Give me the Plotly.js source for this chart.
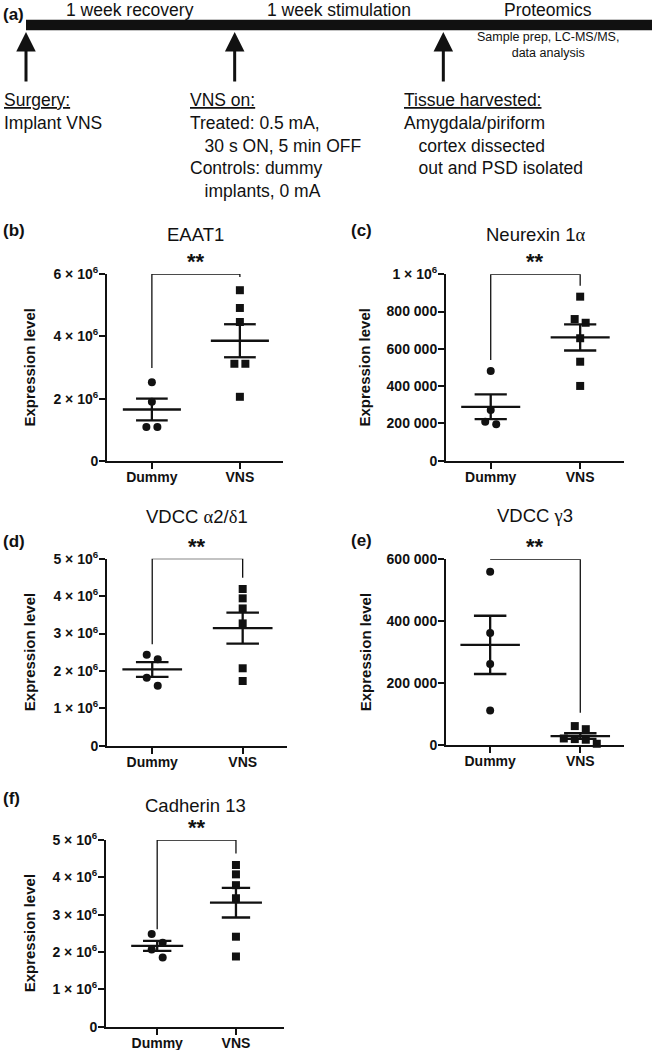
<!DOCTYPE html>
<html>
<head>
<meta charset="utf-8">
<script src="https://cdn.plot.ly/plotly-3.0.1.min.js"></script>
<style>
  body { margin: 0; background: #fff; }
  #fig { width: 654px; height: 1050px; }
</style>
</head>
<body>
<div id="fig"></div>
<script>
// ---- (a) timeline ----
var stages = ['1 week recovery', '1 week stimulation', 'Proteomics'];
var events = [0, 1, 2];
var eventText = [
  '<u>Surgery:</u><br>Implant VNS',
  '<u>VNS on:</u><br>Treated: 0.5 mA,<br>\u00a0\u00a0\u00a030 s ON, 5 min OFF<br>Controls: dummy<br>\u00a0\u00a0\u00a0implants, 0 mA',
  '<u>Tissue harvested:</u><br>Amygdala/piriform<br>\u00a0\u00a0\u00a0cortex dissected<br>\u00a0\u00a0\u00a0out and PSD isolated'
];
var proteomicsNote = 'Sample prep, LC-MS/MS,<br>data analysis';

// ---- (b)-(f) scatter panels ----
var groups = ['Dummy', 'VNS'];
var titles = ['EAAT1', 'Neurexin 1<span style="font-family:Liberation Serif">\u03b1</span>',
  'VDCC <span style="font-family:Liberation Serif">\u03b1</span>2/<span style="font-family:Liberation Serif">\u03b4</span>1',
  'VDCC <span style="font-family:Liberation Serif">\u03b3</span>3', 'Cadherin 13'];
var letters = ['(b)', '(c)', '(d)', '(e)', '(f)'];

var eaat1Dummy = [2.53e6, 1.90e6, 1.09e6, 1.09e6];
var eaat1Vns = [5.48e6, 4.91e6, 4.46e6, 3.12e6, 3.12e6, 2.06e6];
var nrxDummy = [481000, 272000, 209000, 195000];
var nrxVns = [880000, 760000, 740000, 657000, 531000, 401000];
var a2d1Dummy = [2.43e6, 2.31e6, 1.82e6, 1.60e6];
var a2d1Vns = [4.19e6, 3.94e6, 3.67e6, 3.27e6, 2.07e6, 1.73e6];
var g3Dummy = [560000, 362000, 262000, 112000];
var g3Vns = [62000, 52000, 22000, 20000, 18000, 5000];
var cdh13Dummy = [2.48e6, 2.25e6, 2.07e6, 1.85e6];
var cdh13Vns = [4.33e6, 4.08e6, 3.79e6, 3.44e6, 2.41e6, 1.88e6];

// where the significance bracket legs end (Dummy side, VNS side)
var eaat1Legs = [2.98e6, 5.9e6];
var nrxLegs = [540000, 939000];
var a2d1Legs = [2.71e6, 4.49e6];
var g3Legs = [600000, 105000];
var cdh13Legs = [2.61e6, 4.64e6];

var ticksB = [0, 2e6, 4e6, 6e6];
var labelsB = ['0', '2 \u00d7 10<sup>6</sup>', '4 \u00d7 10<sup>6</sup>', '6 \u00d7 10<sup>6</sup>'];
var ticksC = [0, 200000, 400000, 600000, 800000, 1e6];
var labelsC = ['0', '200 000', '400 000', '600 000', '800 000', '1 \u00d7 10<sup>6</sup>'];
var ticksD = [0, 1e6, 2e6, 3e6, 4e6, 5e6];
var labelsD = ['0', '1 \u00d7 10<sup>6</sup>', '2 \u00d7 10<sup>6</sup>', '3 \u00d7 10<sup>6</sup>',
  '4 \u00d7 10<sup>6</sup>', '5 \u00d7 10<sup>6</sup>'];
var ticksE = [0, 200000, 400000, 600000];
var labelsE = ['0', '200 000', '400 000', '600 000'];

var FONT = 'Liberation Sans, Arial, Helvetica, sans-serif';
var INK = '#111';
var W = 654, H = 1050;
function px(x) { return x / W; }
function py(y) { return 1 - y / H; }

// pixel boxes: [left, right, top, bottom] of each plot area
var panels = [
  {dummy: eaat1Dummy, vns: eaat1Vns, legs: eaat1Legs, ticks: ticksB, labels: labelsB,
   box: [107, 283, 274, 461], xr: [-0.51, 1.49], titleY: 234, letter: [1, 230], ylab: 29},
  {dummy: nrxDummy, vns: nrxVns, legs: nrxLegs, ticks: ticksC, labels: labelsC,
   box: [446, 624, 274.3, 460.7], xr: [-0.5, 1.49], titleY: 234, letter: [349, 230], ylab: 364},
  {dummy: a2d1Dummy, vns: a2d1Vns, legs: a2d1Legs, ticks: ticksD, labels: labelsD,
   box: [107, 287, 558.7, 745.7], xr: [-0.5, 1.49], titleY: 516, letter: [1, 541], ylab: 29},
  {dummy: g3Dummy, vns: g3Vns, legs: g3Legs, ticks: ticksE, labels: labelsE,
   box: [446, 624, 559.3, 745.3], xr: [-0.49, 1.485], titleY: 515, letter: [349, 540], ylab: 365},
  {dummy: cdh13Dummy, vns: cdh13Vns, legs: cdh13Legs, ticks: ticksD, labels: labelsD,
   box: [106, 284, 840, 1026.7], xr: [-0.65, 1.61], titleY: 805, letter: [1, 798], ylab: 29}
];

// points that would overlap are set side by side in rows
function spread(vals, valPerPx, pxPerUnit) {
  var order = vals.map(function (v, i) { return i; })
    .sort(function (a, b) { return vals[b] - vals[a]; });
  var off = [];
  var k = 0;
  while (k < order.length) {
    var row = [order[k]];
    var start = vals[order[k]];
    k++;
    while (k < order.length && (start - vals[order[k]]) / valPerPx < 9) {
      row.push(order[k]);
      k++;
    }
    row.forEach(function (idx, j) {
      off[idx] = (j - (row.length - 1) / 2) * 11 / pxPerUnit;
    });
  }
  return off;
}

function meanSem(vals) {
  var n = vals.length;
  var m = vals.reduce(function (s, v) { return s + v; }, 0) / n;
  var ss = vals.reduce(function (s, v) { return s + (v - m) * (v - m); }, 0);
  return [m, Math.sqrt(ss / (n - 1)) / Math.sqrt(n)];
}

var data = [];
var annotations = [];
var layout = {
  width: W, height: H,
  margin: {l: 0, r: 0, t: 0, b: 0},
  paper_bgcolor: '#fff', plot_bgcolor: 'rgba(0,0,0,0)',
  showlegend: false,
  font: {family: FONT, color: INK}
};

panels.forEach(function (p, n) {
  var sfx = n === 0 ? '' : String(n + 1);
  var xa = 'x' + sfx, ya = 'y' + sfx;
  var top = p.ticks[p.ticks.length - 1];
  var b = p.box;
  var pxPerUnit = (b[1] - b[0]) / (p.xr[1] - p.xr[0]);
  var valPerPx = top / (b[3] - b[2]);

  [p.dummy, p.vns].forEach(function (vals, g) {
    var off = spread(vals, valPerPx, pxPerUnit);
    data.push({
      x: vals.map(function (v, i) { return g + off[i]; }), y: vals,
      xaxis: xa, yaxis: ya, type: 'scatter', mode: 'markers', cliponaxis: false,
      marker: {symbol: g === 0 ? 'circle' : 'square', size: 8, color: INK},
      hoverinfo: 'skip'
    });
    var ms = meanSem(vals), m = ms[0], se = ms[1];
    data.push({
      x: [g - 0.33, g + 0.33, null, g, g, null, g - 0.18, g + 0.18, null, g - 0.18, g + 0.18],
      y: [m, m, null, m - se, m + se, null, m + se, m + se, null, m - se, m - se],
      xaxis: xa, yaxis: ya, type: 'scatter', mode: 'lines', cliponaxis: false,
      line: {color: INK, width: 2.3}, hoverinfo: 'skip'
    });
  });

  data.push({
    x: [0, 0, 1, 1], y: [p.legs[0], top, top, p.legs[1]],
    xaxis: xa, yaxis: ya, type: 'scatter', mode: 'lines', cliponaxis: false,
    line: {color: INK, width: 1.3}, hoverinfo: 'skip'
  });

  var axisStyle = {
    showline: true, linewidth: 2, linecolor: INK,
    ticks: 'outside', ticklen: 6, tickwidth: 2, tickcolor: INK,
    showgrid: false, zeroline: false, fixedrange: true,
    tickfont: {family: FONT, size: 14, color: INK, weight: 'bold'}
  };
  layout['xaxis' + sfx] = Object.assign({
    domain: [px(b[0]), px(b[1])], range: p.xr, anchor: ya,
    tickvals: groups.map(function (gr, i) { return i; }), ticktext: groups,
    ticklabelstandoff: -4
  }, axisStyle);
  layout['yaxis' + sfx] = Object.assign({
    domain: [py(b[3]), py(b[2])], range: [0, top], anchor: xa,
    tickvals: p.ticks, ticktext: p.labels, ticklabelstandoff: -2
  }, axisStyle);

  annotations.push({
    xref: 'paper', yref: 'paper', x: px((b[0] + b[1]) / 2), y: py(p.titleY),
    text: titles[n], showarrow: false, xanchor: 'center', yanchor: 'middle',
    font: {family: FONT, size: 18.5, color: INK}
  });
  annotations.push({
    xref: 'paper', yref: 'paper', x: px(p.letter[0]), y: py(p.letter[1]),
    text: letters[n], showarrow: false, xanchor: 'left', yanchor: 'middle',
    font: {family: FONT, size: 17, color: INK, weight: 'bold'}
  });
  annotations.push({
    xref: xa, yref: ya, x: 0.5, y: top, yshift: -2,
    text: '**', showarrow: false, xanchor: 'center', yanchor: 'bottom',
    font: {family: FONT, size: 22, color: INK, weight: 'bold'}
  });
  annotations.push({
    xref: 'paper', yref: 'paper', x: px(p.ylab), y: py((b[2] + b[3]) / 2),
    text: 'Expression level', textangle: -90, showarrow: false,
    xanchor: 'center', yanchor: 'middle',
    font: {family: FONT, size: 15, color: INK, weight: 'bold'}
  });
});

// timeline bar on its own hidden axes: one unit per week / stage
data.push({
  x: [0, stages.length], y: [0, 0], xaxis: 'x6', yaxis: 'y6',
  type: 'scatter', mode: 'lines', line: {color: INK, width: 10.5}, hoverinfo: 'skip'
});
layout.xaxis6 = {domain: [px(26), px(652)], range: [0, stages.length], anchor: 'y6',
  visible: false, fixedrange: true};
layout.yaxis6 = {domain: [py(50), 1], range: [-1, 1], anchor: 'x6',
  visible: false, fixedrange: true};

annotations.push({
  xref: 'paper', yref: 'paper', x: px(1), y: py(15), text: '(a)', showarrow: false,
  xanchor: 'left', yanchor: 'middle', font: {family: FONT, size: 17, color: INK, weight: 'bold'}
});
stages.forEach(function (s, i) {
  annotations.push({
    xref: 'x6', yref: 'paper', x: i + 0.5, y: py(10), text: s, showarrow: false,
    xanchor: 'center', yanchor: 'middle', font: {family: FONT, size: 17.5, color: INK}
  });
});
annotations.push({
  xref: 'x6', yref: 'paper', x: stages.length - 0.5, y: py(45), text: proteomicsNote,
  showarrow: false, xanchor: 'center', yanchor: 'middle', align: 'center',
  font: {family: FONT, size: 12.5, color: INK}
});
var textShift = [-24, -46.7, -41.3];
events.forEach(function (e, i) {
  annotations.push({
    xref: 'x6', yref: 'paper', x: e, y: py(32), text: '', showarrow: true,
    ax: 0, ay: 51, arrowhead: 2, arrowsize: 1.3, arrowwidth: 3, arrowcolor: INK
  });
  annotations.push({
    xref: 'x6', yref: 'paper', x: e, y: py(88), xshift: textShift[i], text: eventText[i],
    showarrow: false, xanchor: 'left', yanchor: 'top', align: 'left',
    font: {family: FONT, size: 17.5, color: INK}
  });
});

layout.annotations = annotations;

Plotly.newPlot('fig', data, layout, {displayModeBar: false, staticPlot: true});
</script>
</body>
</html>
